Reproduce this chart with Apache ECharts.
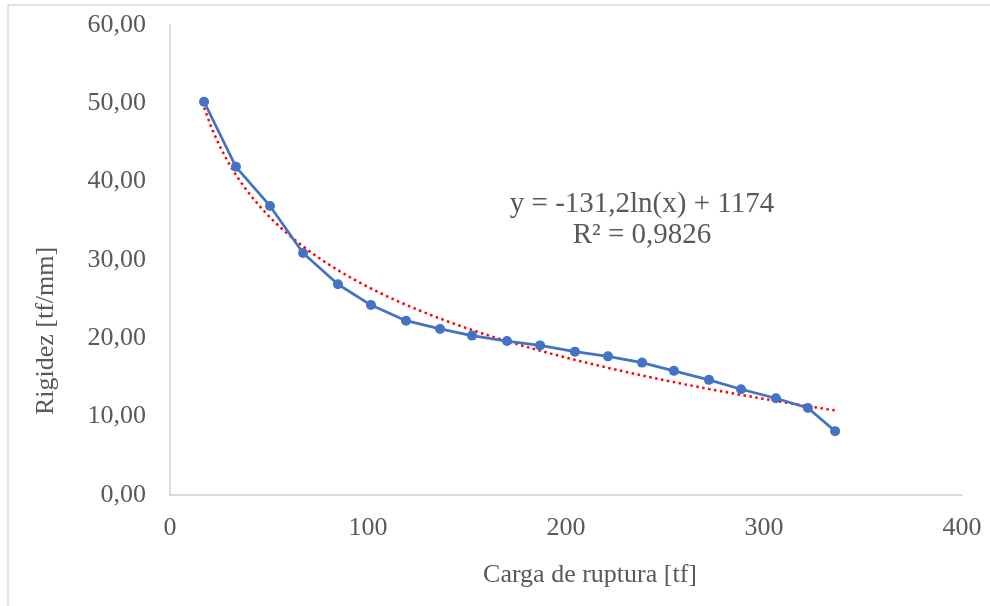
<!DOCTYPE html>
<html>
<head>
<meta charset="utf-8">
<style>
  html, body { margin: 0; padding: 0; background: #ffffff; }
  #chart { width: 990px; height: 606px; }
</style>
<script src="https://cdn.jsdelivr.net/npm/echarts@6/dist/echarts.min.js"></script>
</head>
<body>
<div id="chart"></div>
<script>
// Breaking load (tf) and the stiffness measured at each load step (tf/mm)
const cargaRuptura = [17.2, 33.3, 50.5, 67.2, 84.8, 101.5, 119.2, 136.4, 152.5, 170.2,
                      186.9, 204.5, 221.2, 238.4, 254.5, 272.2, 288.4, 306.0, 322.2, 335.9];
const rigidez = [50.2, 41.9, 36.9, 30.9, 26.9, 24.25, 22.25, 21.2, 20.35, 19.65,
                 19.1, 18.3, 17.7, 16.9, 15.85, 14.7, 13.5, 12.35, 11.1, 8.15];

const xTicks = [0, 100, 200, 300, 400];
const yTicks = [0, 10, 20, 30, 40, 50, 60];
const trendLabel = ['y = -131,2ln(x) + 1174', 'R² = 0,9826'];

const FONT = '"Liberation Serif", "Times New Roman", serif';
const TEXT = '#595959';
const AXIS = '#d0d0d0';

// Logarithmic least-squares trend (y = a·ln(x) + b) over the measured range
function logFit(xs, ys) {
  const n = xs.length;
  let sl = 0, sy = 0, sll = 0, sly = 0;
  for (let i = 0; i < n; i++) {
    const l = Math.log(xs[i]);
    sl += l; sy += ys[i]; sll += l * l; sly += l * ys[i];
  }
  const a = (n * sly - sl * sy) / (n * sll - sl * sl);
  const b = (sy - a * sl) / n;
  return { a, b };
}
const fit = logFit(cargaRuptura, rigidez);
const xStart = cargaRuptura[0];
const xEnd = cargaRuptura[cargaRuptura.length - 1];
const trendPts = [];
const steps = 80;
for (let i = 0; i <= steps; i++) {
  const x = xStart + (xEnd - xStart) * i / steps;
  trendPts.push([x, fit.a * Math.log(x) + fit.b]);
}

const measured = cargaRuptura.map((x, i) => [x, rigidez[i]]);

const chart = echarts.init(document.getElementById('chart'), null, { renderer: 'canvas' });
chart.setOption({
  backgroundColor: '#ffffff',
  animation: false,
  grid: { left: 170, right: 28, top: 25, bottom: 111, containLabel: false },
  xAxis: {
    type: 'value',
    min: xTicks[0],
    max: xTicks[xTicks.length - 1],
    interval: xTicks[1] - xTicks[0],
    axisLine: { show: true, onZero: false, lineStyle: { color: AXIS, width: 1.5 } },
    axisTick: { show: false },
    splitLine: { show: false },
    axisLabel: { color: TEXT, fontFamily: FONT, fontSize: 26, margin: 20 }
  },
  yAxis: {
    type: 'value',
    min: yTicks[0],
    max: yTicks[yTicks.length - 1],
    interval: yTicks[1] - yTicks[0],
    axisLine: { show: true, lineStyle: { color: AXIS, width: 1.5 } },
    axisTick: { show: false },
    splitLine: { show: false },
    axisLabel: {
      color: TEXT, fontFamily: FONT, fontSize: 26, margin: 24,
      formatter: v => v.toFixed(2).replace('.', ',')
    }
  },
  series: [
    {
      name: 'Rigidez',
      type: 'line',
      data: measured,
      symbol: 'circle',
      symbolSize: 10,
      itemStyle: { color: '#4472C4' },
      lineStyle: { color: '#4472C4', width: 2.75 },
      z: 3
    },
    {
      name: 'Tendência logarítmica',
      type: 'line',
      data: trendPts,
      showSymbol: false,
      smooth: false,
      lineStyle: { color: '#ff0000', width: 2.5, type: [2.5, 3.5] },
      z: 2
    }
  ],
  graphic: [
    // chart frame (top and left edges)
    { type: 'line', shape: { x1: 8, y1: 5, x2: 990, y2: 5 }, style: { stroke: '#d9d9d9', lineWidth: 1.5 } },
    { type: 'line', shape: { x1: 8, y1: 5, x2: 8, y2: 606 }, style: { stroke: '#d9d9d9', lineWidth: 1.5 } },
    {
      type: 'text', x: 46, y: 331, rotation: Math.PI / 2,
      style: { text: 'Rigidez [tf/mm]', fill: TEXT, font: '26px ' + FONT, textAlign: 'center', textVerticalAlign: 'middle' }
    },
    {
      type: 'text', x: 590, y: 575,
      style: { text: 'Carga de ruptura [tf]', fill: TEXT, font: '26px ' + FONT, textAlign: 'center', textVerticalAlign: 'middle' }
    },
    {
      type: 'text', x: 642, y: 204,
      style: { text: trendLabel[0], fill: TEXT, font: '29px ' + FONT, textAlign: 'center', textVerticalAlign: 'middle' }
    },
    {
      type: 'text', x: 642, y: 235,
      style: { text: trendLabel[1], fill: TEXT, font: '29px ' + FONT, textAlign: 'center', textVerticalAlign: 'middle' }
    }
  ]
});
</script>
</body>
</html>
